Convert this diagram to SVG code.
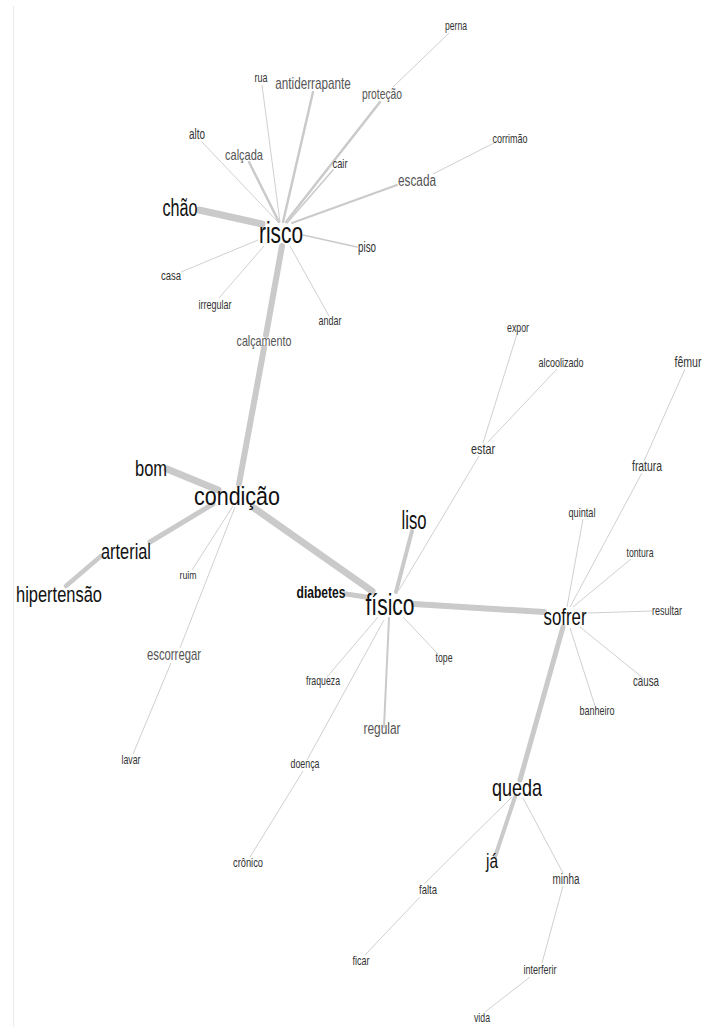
<svg xmlns="http://www.w3.org/2000/svg" width="712" height="1027" viewBox="0 0 712 1027">
<style>
.e{stroke:#cacaca;stroke-linecap:round;fill:none}
.t{stroke:#d0d0d0;stroke-width:1;fill:none}
text{font-family:"Liberation Sans",Arial,sans-serif;text-anchor:middle}
.big{fill:#111}
.mid{fill:#555}
.sm{fill:#333}
</style>
<rect width="712" height="1027" fill="#fff"/>
<line x1="13.5" y1="6" x2="13.5" y2="1027" stroke="#ebebeb" stroke-width="1"/>
<g id="connectors">
<line class="e" x1="199" y1="210" x2="262" y2="224" stroke-width="7"/>
<line class="t" x1="262" y1="85" x2="280" y2="222"/>
<line class="e" x1="313" y1="92" x2="283" y2="222" stroke-width="2.5"/>
<line class="e" x1="380" y1="102" x2="286" y2="222" stroke-width="2.5"/>
<line class="t" x1="449" y1="33" x2="393" y2="87"/>
<line class="t" x1="201" y1="141" x2="278" y2="222"/>
<line class="e" x1="249" y1="162" x2="279" y2="222" stroke-width="2.5"/>
<line class="e" x1="333" y1="170" x2="287" y2="223" stroke-width="1.5"/>
<line class="e" x1="397" y1="185" x2="292" y2="223" stroke-width="2"/>
<line class="t" x1="494" y1="143" x2="433" y2="174" stroke-width="1.2"/>
<line class="e" x1="357" y1="247" x2="303" y2="235" stroke-width="1.5"/>
<line class="t" x1="181" y1="272" x2="258" y2="240"/>
<line class="t" x1="219" y1="298" x2="264" y2="246"/>
<line class="t" x1="329" y1="316" x2="290" y2="246"/>
<line class="e" x1="282" y1="246" x2="266" y2="335" stroke-width="6"/>
<line class="e" x1="264" y1="348" x2="239" y2="484" stroke-width="6"/>
<line class="e" x1="167" y1="469" x2="218" y2="490" stroke-width="7"/>
<line class="e" x1="213" y1="504" x2="150" y2="542" stroke-width="5"/>
<line class="e" x1="101" y1="556" x2="66" y2="586" stroke-width="4.5"/>
<line class="e" x1="254" y1="508" x2="372" y2="591" stroke-width="7"/>
<line class="t" x1="233" y1="506" x2="192" y2="570" stroke-width="0.8"/>
<line class="t" x1="235" y1="507" x2="180" y2="648" stroke-width="0.8"/>
<line class="t" x1="171" y1="663" x2="133" y2="754" stroke-width="0.8"/>
<line class="e" x1="346" y1="594" x2="366" y2="597" stroke-width="5"/>
<line class="e" x1="396" y1="592" x2="412" y2="531" stroke-width="4"/>
<line class="t" x1="399" y1="590" x2="479" y2="456" stroke-width="1.2"/>
<line class="t" x1="483" y1="443" x2="517" y2="334"/>
<line class="t" x1="488" y1="442" x2="557" y2="369"/>
<line class="e" x1="414" y1="604" x2="544" y2="612" stroke-width="6"/>
<line class="t" x1="403" y1="617" x2="438" y2="654"/>
<line class="t" x1="378" y1="617" x2="327" y2="677"/>
<line class="t" x1="384" y1="620" x2="307" y2="760"/>
<line class="t" x1="303" y1="771" x2="250" y2="857"/>
<line class="e" x1="389" y1="618" x2="384" y2="727" stroke-width="2"/>
<line class="t" x1="567" y1="607" x2="583" y2="519"/>
<line class="t" x1="570" y1="607" x2="642" y2="473"/>
<line class="t" x1="644" y1="461" x2="685" y2="369"/>
<line class="t" x1="573" y1="607" x2="631" y2="559"/>
<line class="t" x1="588" y1="613" x2="652" y2="611"/>
<line class="t" x1="580" y1="627" x2="643" y2="678"/>
<line class="t" x1="570" y1="628" x2="595" y2="706"/>
<line class="e" x1="563" y1="627" x2="520" y2="780" stroke-width="5"/>
<line class="e" x1="515" y1="797" x2="495" y2="857" stroke-width="4"/>
<line class="t" x1="512" y1="797" x2="424" y2="884"/>
<line class="t" x1="420" y1="897" x2="365" y2="955"/>
<line class="t" x1="523" y1="798" x2="563" y2="873"/>
<line class="t" x1="563" y1="886" x2="542" y2="963"/>
<line class="t" x1="530" y1="977" x2="485" y2="1012"/>
</g>
<g id="n-risco"><text class="big" x="281" y="243" font-size="30" textLength="44" lengthAdjust="spacingAndGlyphs">risco</text></g>
<g id="n-chao"><text class="big" x="180" y="216" font-size="23" textLength="35" lengthAdjust="spacingAndGlyphs">chão</text></g>
<g id="n-rua"><text class="sm" x="261" y="82" font-size="12" textLength="13" lengthAdjust="spacingAndGlyphs">rua</text></g>
<g id="n-antiderrapante"><text class="mid" transform="translate(313,89) scale(0.73,1)" x="0" y="0" font-size="16">antiderrapante</text></g>
<g id="n-protecao"><text class="mid" transform="translate(382,99) scale(0.69,1)" x="0" y="0" font-size="15">proteção</text></g>
<g id="n-perna"><text class="sm" x="456" y="30" font-size="13" textLength="22" lengthAdjust="spacingAndGlyphs">perna</text></g>
<g id="n-alto"><text class="sm" x="197" y="139" font-size="14" textLength="16" lengthAdjust="spacingAndGlyphs">alto</text></g>
<g id="n-calcada"><text class="mid" x="244" y="160" font-size="15" textLength="38" lengthAdjust="spacingAndGlyphs">calçada</text></g>
<g id="n-cair"><text class="sm" x="340" y="168" font-size="13" textLength="15" lengthAdjust="spacingAndGlyphs">cair</text></g>
<g id="n-corrimao"><text class="sm" x="510" y="143" font-size="13" textLength="35" lengthAdjust="spacingAndGlyphs">corrimão</text></g>
<g id="n-escada"><text class="mid" x="417" y="186" font-size="16" textLength="38" lengthAdjust="spacingAndGlyphs">escada</text></g>
<g id="n-piso"><text class="sm" x="367" y="252" font-size="14" textLength="18" lengthAdjust="spacingAndGlyphs">piso</text></g>
<g id="n-casa"><text class="sm" x="171" y="280" font-size="13" textLength="20" lengthAdjust="spacingAndGlyphs">casa</text></g>
<g id="n-irregular"><text class="sm" x="215" y="309" font-size="13" textLength="33" lengthAdjust="spacingAndGlyphs">irregular</text></g>
<g id="n-andar"><text class="sm" x="330" y="325" font-size="13" textLength="23" lengthAdjust="spacingAndGlyphs">andar</text></g>
<g id="n-calcamento"><text class="mid" x="264" y="346" font-size="15" textLength="55" lengthAdjust="spacingAndGlyphs">calçamento</text></g>
<g id="n-expor"><text class="sm" x="518" y="332" font-size="13" textLength="22" lengthAdjust="spacingAndGlyphs">expor</text></g>
<g id="n-alcoolizado"><text class="sm" x="561" y="367" font-size="13" textLength="45" lengthAdjust="spacingAndGlyphs">alcoolizado</text></g>
<g id="n-femur"><text class="sm" x="688" y="367" font-size="14" textLength="27" lengthAdjust="spacingAndGlyphs">fêmur</text></g>
<g id="n-estar"><text class="sm" x="483" y="454" font-size="15" textLength="24" lengthAdjust="spacingAndGlyphs">estar</text></g>
<g id="n-fratura"><text class="sm" x="647" y="471" font-size="14" textLength="30" lengthAdjust="spacingAndGlyphs">fratura</text></g>
<g id="n-bom"><text class="big" x="151" y="476" font-size="22" textLength="32" lengthAdjust="spacingAndGlyphs">bom</text></g>
<g id="n-condicao"><text class="big" x="237" y="505" font-size="26" textLength="86" lengthAdjust="spacingAndGlyphs">condição</text></g>
<g id="n-liso"><text class="big" x="414" y="529" font-size="25" textLength="25" lengthAdjust="spacingAndGlyphs">liso</text></g>
<g id="n-quintal"><text class="sm" x="582" y="517" font-size="13" textLength="27" lengthAdjust="spacingAndGlyphs">quintal</text></g>
<g id="n-arterial"><text class="big" x="126" y="559" font-size="22" textLength="50" lengthAdjust="spacingAndGlyphs">arterial</text></g>
<g id="n-tontura"><text class="sm" x="640" y="557" font-size="13" textLength="27" lengthAdjust="spacingAndGlyphs">tontura</text></g>
<g id="n-hipertensao"><text class="big" x="59" y="602" font-size="22" textLength="86" lengthAdjust="spacingAndGlyphs">hipertensão</text></g>
<g id="n-ruim"><text class="sm" x="188" y="579" font-size="11" textLength="17" lengthAdjust="spacingAndGlyphs">ruim</text></g>
<g id="n-diabetes"><text class="big" x="321" y="598" font-size="17" font-weight="bold" textLength="49" lengthAdjust="spacingAndGlyphs">diabetes</text></g>
<g id="n-fisico"><text class="big" x="390" y="615" font-size="30" textLength="49" lengthAdjust="spacingAndGlyphs">físico</text></g>
<g id="n-sofrer"><text class="big" x="565" y="625" font-size="24" textLength="43" lengthAdjust="spacingAndGlyphs">sofrer</text></g>
<g id="n-resultar"><text class="sm" x="667" y="615" font-size="13" textLength="30" lengthAdjust="spacingAndGlyphs">resultar</text></g>
<g id="n-escorregar"><text class="mid" x="174" y="660" font-size="17" textLength="54" lengthAdjust="spacingAndGlyphs">escorregar</text></g>
<g id="n-tope"><text class="sm" x="444" y="662" font-size="13" textLength="17" lengthAdjust="spacingAndGlyphs">tope</text></g>
<g id="n-fraqueza"><text class="sm" x="323" y="685" font-size="13" textLength="34" lengthAdjust="spacingAndGlyphs">fraqueza</text></g>
<g id="n-causa"><text class="sm" x="646" y="686" font-size="15" textLength="26" lengthAdjust="spacingAndGlyphs">causa</text></g>
<g id="n-banheiro"><text class="sm" x="597" y="715" font-size="13" textLength="35" lengthAdjust="spacingAndGlyphs">banheiro</text></g>
<g id="n-regular"><text class="mid" x="382" y="734" font-size="16" textLength="37" lengthAdjust="spacingAndGlyphs">regular</text></g>
<g id="n-lavar"><text class="sm" x="131" y="764" font-size="13" textLength="19" lengthAdjust="spacingAndGlyphs">lavar</text></g>
<g id="n-doenca"><text class="sm" x="305" y="768" font-size="13" textLength="29" lengthAdjust="spacingAndGlyphs">doença</text></g>
<g id="n-queda"><text class="big" x="517" y="796" font-size="24" textLength="50" lengthAdjust="spacingAndGlyphs">queda</text></g>
<g id="n-cronico"><text class="sm" x="248" y="867" font-size="13" textLength="30" lengthAdjust="spacingAndGlyphs">crônico</text></g>
<g id="n-ja"><text class="big" x="492" y="868" font-size="21" textLength="12" lengthAdjust="spacingAndGlyphs">já</text></g>
<g id="n-minha"><text class="sm" x="566" y="884" font-size="14" textLength="27" lengthAdjust="spacingAndGlyphs">minha</text></g>
<g id="n-falta"><text class="sm" x="428" y="894" font-size="13" textLength="18" lengthAdjust="spacingAndGlyphs">falta</text></g>
<g id="n-ficar"><text class="sm" x="361" y="965" font-size="13" textLength="17" lengthAdjust="spacingAndGlyphs">ficar</text></g>
<g id="n-interferir"><text class="sm" x="540" y="974" font-size="13" textLength="33" lengthAdjust="spacingAndGlyphs">interferir</text></g>
<g id="n-vida"><text class="sm" x="482" y="1022" font-size="13" textLength="16" lengthAdjust="spacingAndGlyphs">vida</text></g>
</svg>
